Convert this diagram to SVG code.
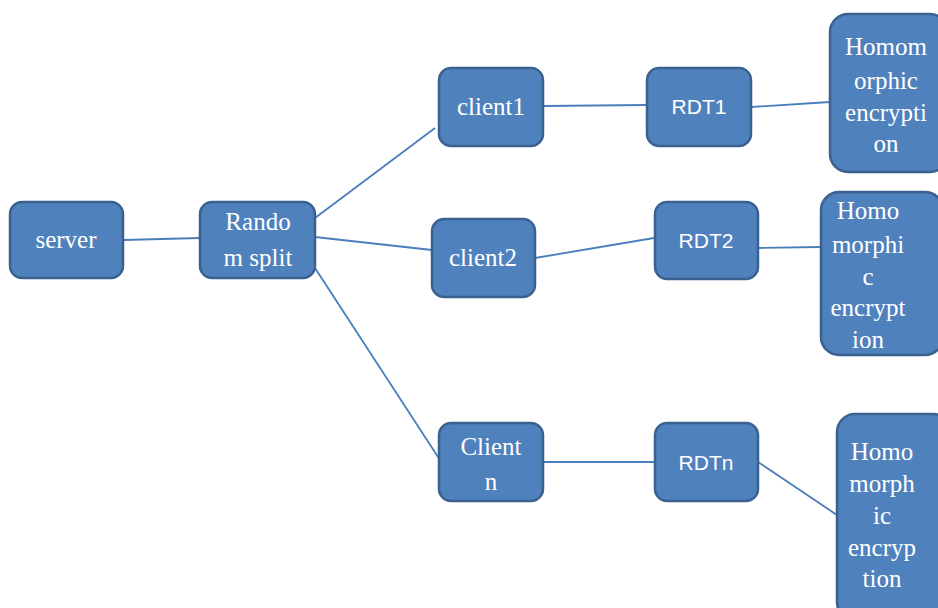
<svg xmlns="http://www.w3.org/2000/svg" width="938" height="608" viewBox="0 0 938 608">
<style>
.box{fill:#4F81BD;stroke:#3A6190;stroke-width:2.5}
.t{font-family:"Liberation Serif","Times New Roman",serif;font-size:25px;fill:#fff;text-anchor:middle}
.s{font-family:"Liberation Sans",Arial,sans-serif;font-size:21px;fill:#fff;text-anchor:middle}
.c{stroke:#4A7EBB;stroke-width:1.8;fill:none}
</style>
<rect width="938" height="608" fill="#fff"/>
<g id="connectors">
<line class="c" x1="123" y1="240" x2="200" y2="238"/>
<line class="c" x1="315" y1="218" x2="435" y2="128"/>
<line class="c" x1="315" y1="237" x2="432" y2="250"/>
<line class="c" x1="315" y1="268" x2="440" y2="460"/>
<line class="c" x1="543" y1="106" x2="647" y2="105"/>
<line class="c" x1="751" y1="107" x2="830" y2="102"/>
<line class="c" x1="535" y1="258" x2="654" y2="238"/>
<line class="c" x1="758" y1="248" x2="820" y2="247"/>
<line class="c" x1="543" y1="462" x2="654" y2="462"/>
<line class="c" x1="758" y1="462" x2="837" y2="515"/>
</g>
<g id="server"><rect class="box" x="10" y="202" width="113" height="76" rx="12"/><text class="t" x="66" y="248">server</text></g>
<g id="random"><rect class="box" x="200" y="202" width="115" height="76" rx="12"/><text class="t" x="258" y="230">Rando</text><text class="t" x="258" y="266">m split</text></g>
<g id="client1"><rect class="box" x="439" y="68" width="104" height="78" rx="12"/><text class="t" x="491" y="115">client1</text></g>
<g id="rdt1"><rect class="box" x="647" y="68" width="104" height="78" rx="12"/><text class="s" x="699" y="114">RDT1</text></g>
<g id="homo1"><rect class="box" x="830" y="14" width="118" height="158" rx="18"/><text class="t" x="886" y="55">Homom</text><text class="t" x="886" y="89">orphic</text><text class="t" x="886" y="121">encrypti</text><text class="t" x="886" y="152">on</text></g>
<g id="client2"><rect class="box" x="432" y="219" width="103" height="78" rx="12"/><text class="t" x="483" y="266">client2</text></g>
<g id="rdt2"><rect class="box" x="655" y="202" width="103" height="77" rx="12"/><text class="s" x="706" y="248">RDT2</text></g>
<g id="homo2"><rect class="box" x="821" y="192" width="122" height="163" rx="18"/><text class="t" x="868" y="219">Homo</text><text class="t" x="868" y="253">morphi</text><text class="t" x="868" y="285">c</text><text class="t" x="868" y="316">encrypt</text><text class="t" x="868" y="348">ion</text></g>
<g id="clientn"><rect class="box" x="439" y="423" width="104" height="78" rx="12"/><text class="t" x="491" y="455">Client</text><text class="t" x="491" y="490">n</text></g>
<g id="rdtn"><rect class="box" x="655" y="423" width="103" height="78" rx="12"/><text class="s" x="706" y="470">RDTn</text></g>
<g id="homon"><rect class="box" x="837" y="414" width="115" height="206" rx="18"/><text class="t" x="882" y="460">Homo</text><text class="t" x="882" y="492">morph</text><text class="t" x="882" y="524">ic</text><text class="t" x="882" y="556">encryp</text><text class="t" x="882" y="587">tion</text></g>
</svg>
